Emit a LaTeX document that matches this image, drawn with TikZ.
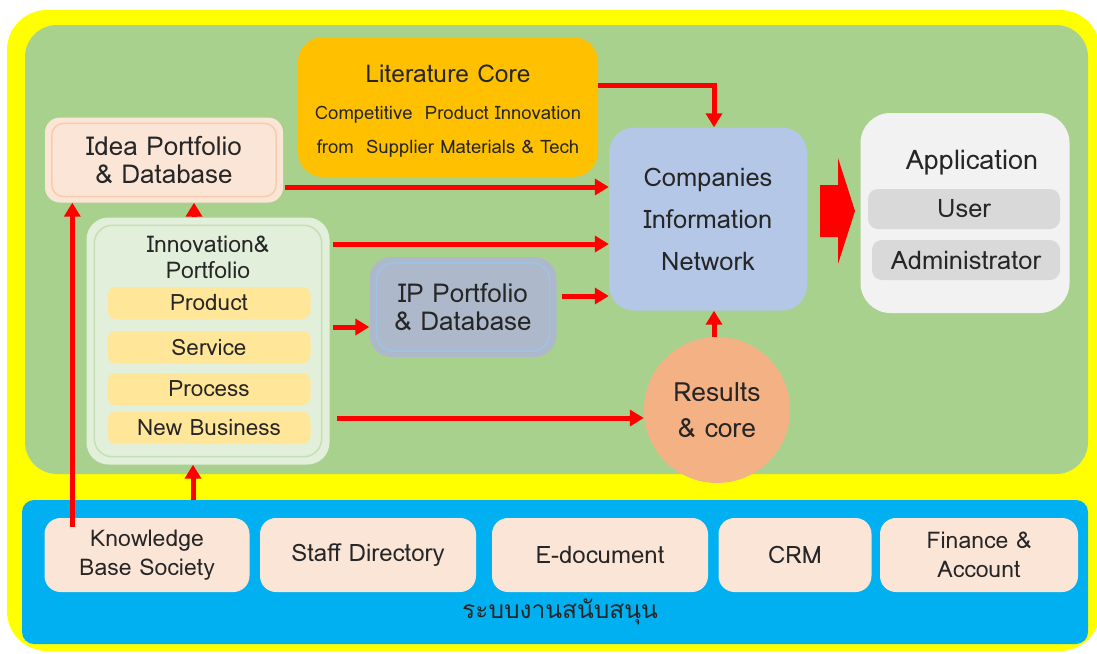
\documentclass[tikz,border=0pt]{standalone}
\usepackage{fontspec}
\setmainfont{Loma}
\newfontfamily\thaifont[Script=Thai]{Loma}
\usetikzlibrary{arrows.meta, positioning}
\definecolor{colBack}{HTML}{FFFF00}
\definecolor{colMain}{HTML}{A9D18E}
\definecolor{colSupp}{HTML}{00B0F0}
\definecolor{colLit}{HTML}{FFC000}
\definecolor{colPeach}{HTML}{FBE5D6}
\definecolor{colPeachLine}{HTML}{F8CBAD}
\definecolor{colInno}{HTML}{E2EFDA}
\definecolor{colInnoLine}{HTML}{C5E0B4}
\definecolor{colItem}{HTML}{FFE699}
\definecolor{colIP}{HTML}{ADB9CA}
\definecolor{colIPLine}{HTML}{9DC3E6}
\definecolor{colNet}{HTML}{B4C7E7}
\definecolor{colApp}{HTML}{F2F2F2}
\definecolor{colRole}{HTML}{D9D9D9}
\definecolor{colRes}{HTML}{F4B183}
\definecolor{colText}{HTML}{262626}
\newcommand{\bigtxt}{\fontsize{26}{28}\selectfont}
\newcommand{\midtxt}{\fontsize{23}{29}\selectfont}
\tikzset{
  box/.style={rounded corners=#1, align=center, inner sep=0pt, text=colText},
  box/.default=15,
  item/.style={box=8, fill=colItem, minimum width=203, minimum height=32, font=\fontsize{22.5}{26}\selectfont},
  role/.style={box=10, fill=colRole, minimum height=40, font=\fontsize{25.5}{28}\selectfont},
  supp/.style={box=16, fill=colPeach, minimum height=74, font=\midtxt},
  arr/.style={draw=red, line width=5pt, -{Triangle[length=14pt,width=16pt]}}
}

\begin{document}
\begin{tikzpicture}[x=1pt, y=-1pt]
\useasboundingbox (0,0) rectangle (1097,653);
% panels
\fill[colBack, rounded corners=40] (7,10) rectangle (1100,651);
\fill[colMain, rounded corners=32] (25,25) rectangle (1088,474);
\fill[colSupp, rounded corners=12] (22,500) rectangle (1088,644);

% upper part
\node[box=25, fill=colLit, minimum width=300, minimum height=140] (lit) at (448,107) {};
\node[text=colText, align=center, inner sep=0pt, font=\fontsize{18.5}{34}\selectfont] (litt) at (448,111)
  {{\fontsize{24.5}{28}\selectfont Literature Core}\\[3pt]Competitive~ Product Innovation\\from~ Supplier Materials \& Tech};
\node[box=15, fill=colPeach, minimum width=238, minimum height=85, font=\bigtxt] (idea) at (164,160)
  {Idea Portfolio\\\& Database};
\draw[colPeachLine, line width=1.5pt, rounded corners=12] ([shift={(7,6)}]idea.north west) rectangle ([shift={(-7,-6)}]idea.south east);
\node[box=22, fill=colInno, minimum width=243, minimum height=247] (inno) at (208,341) {};
\draw[colInnoLine, line width=1.5pt, rounded corners=18] ([shift={(8,8)}]inno.north west) rectangle ([shift={(-8,-8)}]inno.south east);
\node[text=colText, font=\fontsize{23}{26}\selectfont, align=center, inner sep=0pt] (innot) at (208,257) {Innovation\&\\Portfolio};
\node[item] (prod) at (209,303) {Product};
\node[item] (serv) at (209,347) {Service};
\node[item] (proc) at (209,389) {Process};
\node[item] (newb) at (209,428) {New Business};
\node[box=22, fill=colIP, minimum width=187, minimum height=100, font=\bigtxt] (ip) at (463,307)
  {IP Portfolio\\\& Database};
\draw[colIPLine, line width=1.5pt, rounded corners=18] ([shift={(7,6)}]ip.north west) rectangle ([shift={(-7,-6)}]ip.south east);
\node[box=25, fill=colNet, minimum width=198, minimum height=183, font=\fontsize{25.5}{42}\selectfont] (cin) at (708,219)
  {Companies\\Information\\Network};
\node[box=30, fill=colApp, minimum width=209, minimum height=200] (app) at (965,213) {};
\node[text=colText, font=\fontsize{27}{30}\selectfont, inner sep=0pt] (appt) at (972,163) {Application};
\node[role, minimum width=192] (user) at (964,209) {User};
\node[role, minimum width=188] (admin) at (966,260) {Administrator};
\node[circle, fill=colRes, minimum size=146, inner sep=0pt, align=center, text=colText, font=\fontsize{26.5}{36}\selectfont] (res) at (717,410)
  {Results\\\& core};
\fill[red] (820,185) -- (838,185) -- (838,158) -- (855,211) -- (838,264) -- (838,237) -- (820,237) -- cycle;

% support systems
\node[supp, minimum width=205] (know) at (147,555) {Knowledge\\Base Society};
\node[supp, minimum width=216, font=\fontsize{24}{26}\selectfont] (staff) at (368,555) {Staff Directory};
\node[supp, minimum width=216, font=\fontsize{24}{26}\selectfont] (edoc) at (600,555) {E-document};
\node[supp, minimum width=153, font=\fontsize{24}{26}\selectfont] (crm) at (795,555) {CRM};
\node[supp, minimum width=198] (fin) at (979,555) {Finance \&\\Account};
\node[text=colText, font=\thaifont\fontsize{24.5}{28}\selectfont, inner sep=0pt] (supt) at (560,612) {ระบบงานสนับสนุน};

% connectors
\draw[arr] ([shift={(0,-22)}]lit.east) -| ([xshift=6pt]cin.north);
\draw[arr] ([shift={(2,27)}]idea.east) coordinate (a1) -- (a1 -| cin.west);
\draw[arr] ([shift={(3,-97)}]inno.east) coordinate (a2) -- (a2 -| cin.west);
\draw[arr] ([shift={(5,-11)}]ip.east) coordinate (a3) -- (a3 -| cin.west);
\draw[arr] ([shift={(3,-14)}]inno.east) coordinate (a4) -- (a4 -| ip.west);
\draw[arr] ([shift={(7,77)}]inno.east) coordinate (a5) -- (a5 -| res.west);
\draw[arr] ([xshift=-3pt]res.north) coordinate (a6) -- (a6 |- cin.south);
\draw[arr] ([xshift=-14pt]inno.north) coordinate (a7) -- (a7 |- idea.south);
\draw[arr] ([shift={(28,9)}]know.north west) coordinate (a8) -- (a8 |- idea.south);
\coordinate (s1) at (193,500);
\draw[arr] (s1) -- (s1 |- inno.south);
\end{tikzpicture}
\end{document}
